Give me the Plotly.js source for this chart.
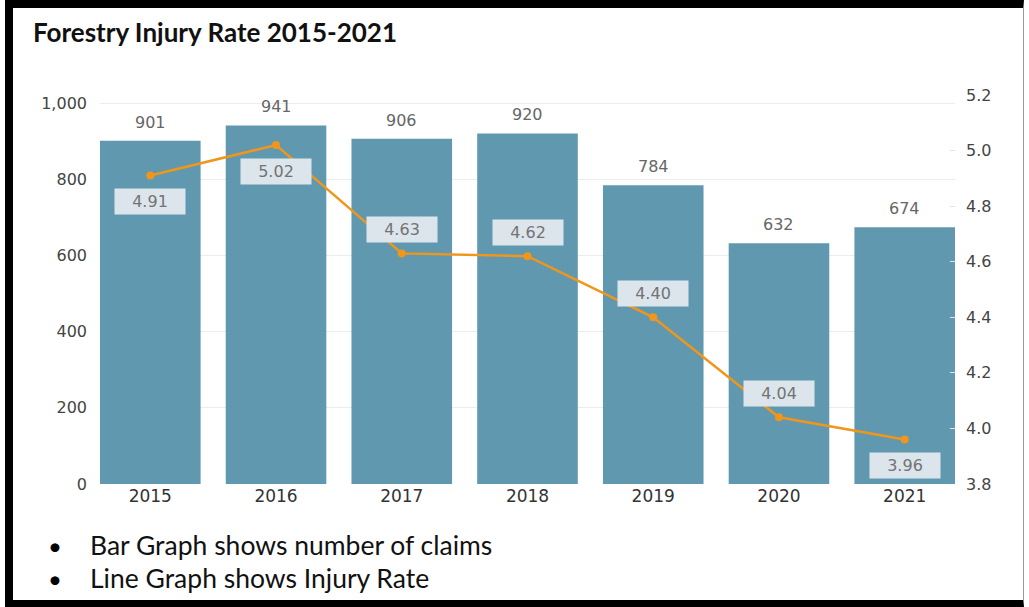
<!DOCTYPE html>
<html>
<head>
<meta charset="utf-8">
<script src="https://cdn.plot.ly/plotly-3.0.1.min.js"></script>
<style>
  html, body { margin: 0; padding: 0; background: #ffffff; }
  #wrap { position: relative; width: 1029px; height: 607px; overflow: hidden; background: #ffffff; }
  #frame { position: absolute; left: 5px; top: 0; width: 1019px; height: 607px; box-sizing: border-box;
           border-top: 8px solid #000; border-left: 8px solid #000; border-bottom: 7px solid #000; border-right: 1px solid #9a9a9a; }
  #chart { position: absolute; left: 0; top: 0; width: 1029px; height: 607px; }
</style>
</head>
<body>
<div id="wrap">
  <div id="frame"></div>
  <div id="chart"></div>
</div>
<script>
// ---- data ----
const years = ["2015", "2016", "2017", "2018", "2019", "2020", "2021"];
const claims = [901, 941, 906, 920, 784, 632, 674];
const injuryRate = [4.91, 5.02, 4.63, 4.62, 4.40, 4.04, 3.96];
const claimTicks = [0, 200, 400, 600, 800, 1000];
const rateTicks = [3.8, 4.0, 4.2, 4.4, 4.6, 4.8, 5.0, 5.2];
const bullets = ["Bar Graph shows number of claims", "Line Graph shows Injury Rate"];
// label placement for rate labels (style only)
const rateLabelSide = ["below", "below", "above", "above", "above", "above", "below"];

const BAR = "#6098b0";
const LINE = "#f0961a";
const FONT = "DejaVu Sans, Verdana, sans-serif";
const TXT = "Lato, Calibri, sans-serif";

const barTrace = {
  type: "bar", x: years, y: claims, yaxis: "y",
  marker: { color: BAR }, hoverinfo: "skip", showlegend: false
};
const lineTrace = {
  type: "scatter", mode: "lines+markers", x: years, y: injuryRate, yaxis: "y2",
  line: { color: LINE, width: 2.5 }, marker: { color: LINE, size: 8 },
  hoverinfo: "skip", showlegend: false
};

const annotations = [];
years.forEach((yr, i) => {
  annotations.push({
    x: i, y: claims[i], xref: "x", yref: "y", text: String(claims[i]),
    showarrow: false, yanchor: "bottom", yshift: 7,
    font: { family: FONT, size: 16, color: "#666666" }
  });
  annotations.push({
    x: i, y: injuryRate[i], xref: "x", yref: "y2", text: injuryRate[i].toFixed(2),
    showarrow: false, yanchor: "middle", yshift: rateLabelSide[i] === "below" ? -26 : 24,
    bgcolor: "#dbe5eb", borderpad: 2, width: 66, height: 21,
    font: { family: FONT, size: 16, color: "#737373" }
  });
});
const bulletY = [-0.157, -0.242];
bullets.forEach((t, i) => {
  annotations.push({
    x: -0.053, y: bulletY[i], xref: "paper", yref: "paper", text: "•",
    showarrow: false, xanchor: "center", yanchor: "middle",
    font: { family: TXT, size: 24, color: "#000" }
  });
  annotations.push({
    x: -0.014, y: bulletY[i], xref: "paper", yref: "paper", text: t,
    showarrow: false, xanchor: "left", yanchor: "middle",
    font: { family: TXT, size: 26.5, color: "#111" }
  });
});

const layout = {
  width: 1029, height: 607,
  margin: { l: 100, r: 74, t: 95, b: 123, pad: 0 },
  paper_bgcolor: "rgba(0,0,0,0)", plot_bgcolor: "rgba(0,0,0,0)",
  bargap: 0.2,
  title: {
    text: "<b>Forestry Injury Rate 2015-2021</b>",
    xref: "container", yref: "container", x: 33 / 1029, y: 1 - 33 / 607,
    xanchor: "left", yanchor: "middle",
    font: { family: TXT, size: 26, color: "#111" }
  },
  xaxis: {
    type: "category", range: [-0.4, 6.4], showgrid: false, zeroline: false, showline: false,
    ticks: "", tickfont: { family: FONT, size: 17, color: "#333333" }, fixedrange: true
  },
  yaxis: {
    range: [0, 1021], tickvals: claimTicks, tickformat: ",", showgrid: true, gridcolor: "#ececec",
    gridwidth: 1, zeroline: false, showline: false, ticks: "", ticklabelstandoff: 12,
    tickfont: { family: FONT, size: 16, color: "#444444" }, fixedrange: true
  },
  yaxis2: {
    overlaying: "y", side: "right", range: [3.8, 5.2], tickvals: rateTicks, tickformat: ".1f",
    showgrid: false, zeroline: false, showline: false, ticks: "inside", ticklen: 5, tickcolor: "#e2e2e2",
    ticklabelstandoff: 10, tickfont: { family: FONT, size: 16, color: "#444444" }, fixedrange: true
  },
  annotations: annotations
};

Plotly.newPlot("chart", [barTrace, lineTrace], layout, { staticPlot: true, displayModeBar: false });
</script>
</body>
</html>
